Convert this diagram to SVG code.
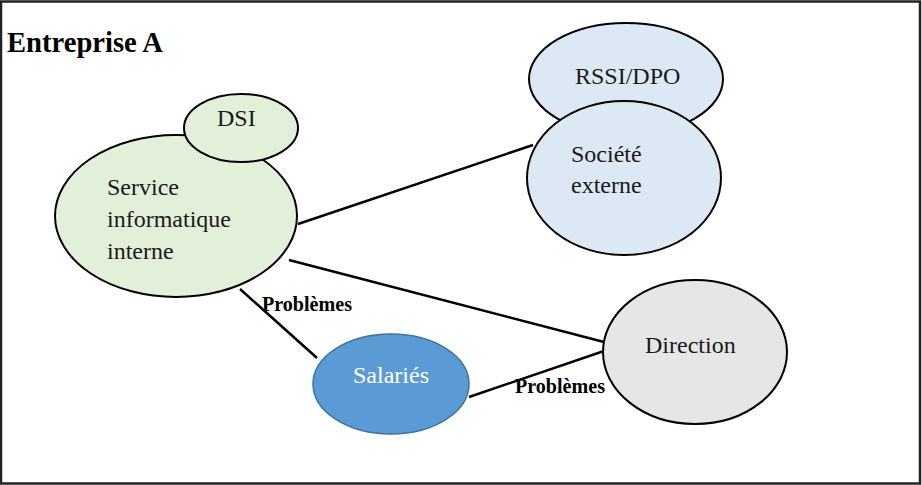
<svg xmlns="http://www.w3.org/2000/svg" width="922" height="485" viewBox="0 0 922 485">
<style>
text{font-family:'Liberation Serif','Times New Roman',serif}
.t{font-size:24px;fill:#1a1a1a}
.b{font-weight:bold;fill:#000}
.n{stroke:#000;stroke-width:2}
.c{stroke:#000;stroke-width:2.5;fill:none}
</style>
<rect x="1" y="1.5" width="919" height="482" fill="#fff" stroke="#222" stroke-width="2.5"/>
<text class="b" x="7" y="52" font-size="29" textLength="156" lengthAdjust="spacingAndGlyphs">Entreprise A</text>
<g id="connectors">
<line class="c" x1="298" y1="224" x2="533" y2="145"/>
<line class="c" x1="289" y1="260" x2="604" y2="342"/>
<line class="c" x1="240" y1="289" x2="317" y2="358"/>
<line class="c" x1="469" y1="397" x2="604" y2="351"/>
<text class="b" x="262" y="311" font-size="20" textLength="90" lengthAdjust="spacingAndGlyphs">Problèmes</text>
<text class="b" x="515" y="393" font-size="20" textLength="90" lengthAdjust="spacingAndGlyphs">Problèmes</text>
</g>
<g id="service">
<ellipse class="n" cx="176" cy="216" rx="121" ry="81" fill="#e2efd9"/>
<text class="t" x="107" y="195">Service</text>
<text class="t" x="107" y="227">informatique</text>
<text class="t" x="107" y="259">interne</text>
</g>
<g id="dsi">
<ellipse class="n" cx="241" cy="128" rx="57" ry="34" fill="#e2efd9"/>
<text class="t" x="217" y="126">DSI</text>
</g>
<g id="rssi">
<ellipse class="n" cx="626" cy="79" rx="97" ry="56" fill="#dde8f5"/>
<text class="t" x="575" y="84">RSSI/DPO</text>
</g>
<g id="societe">
<ellipse class="n" cx="624" cy="178" rx="97" ry="77" fill="#dde8f5"/>
<text class="t" x="571" y="162">Société</text>
<text class="t" x="571" y="193">externe</text>
</g>
<g id="salaries">
<ellipse cx="391" cy="384" rx="78" ry="50" fill="#5b9bd5" stroke="#41719c" stroke-width="1.5"/>
<text class="t" x="391" y="383" text-anchor="middle" style="fill:#fff">Salariés</text>
</g>
<g id="direction">
<ellipse class="n" cx="695" cy="352" rx="92" ry="72" fill="#e6e6e6"/>
<text class="t" x="645" y="353">Direction</text>
</g>
</svg>
